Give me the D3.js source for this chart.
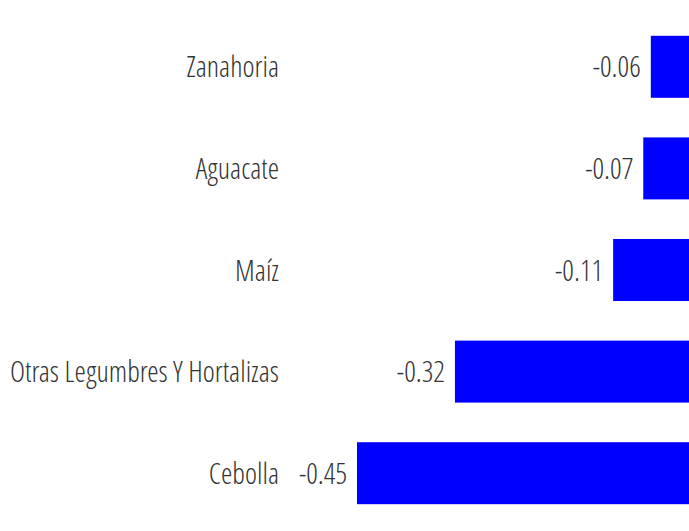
<!DOCTYPE html>
<html>
<head>
<meta charset="utf-8">
<script src="https://cdn.jsdelivr.net/npm/d3@7"></script>
<style>
  body { margin: 0; background: #fff; overflow: hidden; }
  svg text { font-family: "Open Sans Condensed Light", "Open Sans Condensed", "Open Sans", sans-serif; font-stretch: 75%; font-weight: 300; fill: #333; }
</style>
</head>
<body>
<svg id="chart" width="689" height="531"></svg>
<script>
const categories = ["Zanahoria", "Aguacate", "Maíz", "Otras Legumbres Y Hortalizas", "Cebolla"];
const values = [-0.06, -0.07, -0.11, -0.32, -0.45];

const data = categories.map((c, i) => ({ cat: c, value: values[i] }));

const svg = d3.select("#chart");

// zero line sits just past the right edge of the window
const x = d3.scaleLinear()
    .domain([d3.min(values), 0])
    .range([357, 696]);

const y = d3.scaleBand()
    .domain(categories)
    .range([16, 524])
    .paddingInner(0.39)
    .paddingOuter(0.195);

svg.selectAll("rect.bar")
    .data(data)
    .enter()
    .append("rect")
    .attr("class", "bar")
    .attr("x", d => x(d.value))
    .attr("y", d => y(d.cat))
    .attr("width", d => x(0) - x(d.value))
    .attr("height", y.bandwidth())
    .style("fill", "#0000ff");

svg.selectAll("text.val")
    .data(data)
    .enter()
    .append("text")
    .attr("class", "val")
    .attr("x", d => x(d.value) - 10)
    .attr("y", d => y(d.cat) + y.bandwidth() / 2 - 1)
    .attr("text-anchor", "end")
    .attr("dominant-baseline", "central")
    .style("font-size", "29px")
    .text(d => d.value.toFixed(2));

svg.selectAll("text.cat")
    .data(data)
    .enter()
    .append("text")
    .attr("class", "cat")
    .attr("x", 279)
    .attr("y", d => y(d.cat) + y.bandwidth() / 2 - 1)
    .attr("text-anchor", "end")
    .attr("dominant-baseline", "central")
    .style("font-size", "29px")
    .text(d => d.cat);
</script>
</body>
</html>
